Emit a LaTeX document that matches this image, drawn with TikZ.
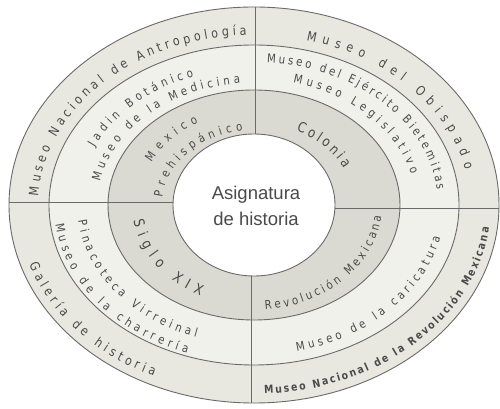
\documentclass[tikz,border=0pt]{standalone}
\usepackage{fontspec}
\setmainfont{Liberation Sans}
\newfontfamily\arcf[FakeStretch=0.85]{DejaVu Sans}
\usetikzlibrary{decorations.text,calc}
\definecolor{ringA}{HTML}{E8E8E0}
\definecolor{ringB}{HTML}{F1F1EB}
\definecolor{ringC}{HTML}{DADAD2}
\definecolor{lc}{HTML}{6A6A6A}
\definecolor{tc}{HTML}{4A4A4A}
\newcommand{\arctext}[6]{%
  \path[decorate,decoration={text along path,text align={fit to path},
    text={|\arcf#5\color{tc}|#6}}]
  ($(C)+({#1*cos(#3)},{#2*sin(#3)})$) arc[start angle=#3,end angle=#4,x radius=#1,y radius=#2];}
\newcommand{\fs}[1]{\fontsize{#1}{#1}\selectfont}
\begin{document}
\begin{tikzpicture}[x=1pt,y=1pt,sep/.style={draw=lc,line width=0.9pt}]
\useasboundingbox (0,0) rectangle (500,409);
\fill[white] (0,0) rectangle (500,409);
\coordinate (C) at (254,204);
\fill[ringA] (C) ellipse[x radius=245,y radius=198];
\fill[ringB] (C) ellipse[x radius=205,y radius=160];
\fill[ringC] (C) ellipse[x radius=146,y radius=115];
\fill[white] (C) ellipse[x radius=81,y radius=71];
\draw[sep] (C) ellipse[x radius=245,y radius=198];
\draw[sep] (C) ellipse[x radius=205,y radius=160];
\draw[sep] (C) ellipse[x radius=146,y radius=115];
\draw[sep] (C) ellipse[x radius=81,y radius=71];
% separators
\coordinate (t1) at (255,402); \coordinate (t2) at (255,275);
\coordinate (b1) at (251,133); \coordinate (b2) at (251,6);
\coordinate (l1) at (9,207);   \coordinate (l2) at (173,207);
\coordinate (r1) at (335,201); \coordinate (r2) at (499,201);
\draw[sep] (t1) -- (t2);
\draw[sep] (b1) -- (b2);
\draw[sep] (l1) -- (l2);
\draw[sep] (r1) -- (r2);
% centre
\node[text=tc,align=center,font=\fontsize{18.5}{26}\selectfont] (ctr) at (256,203) {Asignatura\\de historia};
% outer ring
\arctext{216}{170}{177}{92}{\fs{13}}{Museo Nacional de Antropología}
\arctext{216}{170}{76}{12}{\fs{13}}{Museo del Obispado}
\arctext{237}{189}{198.5}{245}{\fs{13}}{Galería de historia}
\arctext{237}{189}{272.5}{353}{\bfseries\fs{11}}{Museo Nacional de la Revolución Mexicana}
% second ring
\arctext{176}{137}{155}{110}{\fs{12}}{Jadin Botánico}
\arctext{157}{122}{169}{95}{\fs{12}}{Museo de la Medicina}
\arctext{184}{143}{86}{6}{\fs{12}}{Museo del Ejército Bietemitas}
\arctext{162}{126}{76}{14}{\fs{12}}{Museo Legislativo}
\arctext{177}{140}{186.5}{251}{\fs{12}}{Pinacoteca Virreinal}
\arctext{200}{157}{187}{250.5}{\fs{12}}{Museo de la charrería}
\arctext{191}{150}{283}{347.5}{\fs{12}}{Museo de la caricatura}
% third ring
\arctext{115}{94}{153}{119}{\fs{12}}{Mexico}
\arctext{92}{75}{174}{97}{\fs{12}}{Prehispánico}
\arctext{100}{82}{65}{26}{\fs{14}}{Colonia}
\arctext{122}{101}{189}{244}{\fs{14.5}}{Siglo XIX}
\arctext{128}{105}{275}{354}{\fs{12}}{Revolución Mexicana}
\end{tikzpicture}
\end{document}
